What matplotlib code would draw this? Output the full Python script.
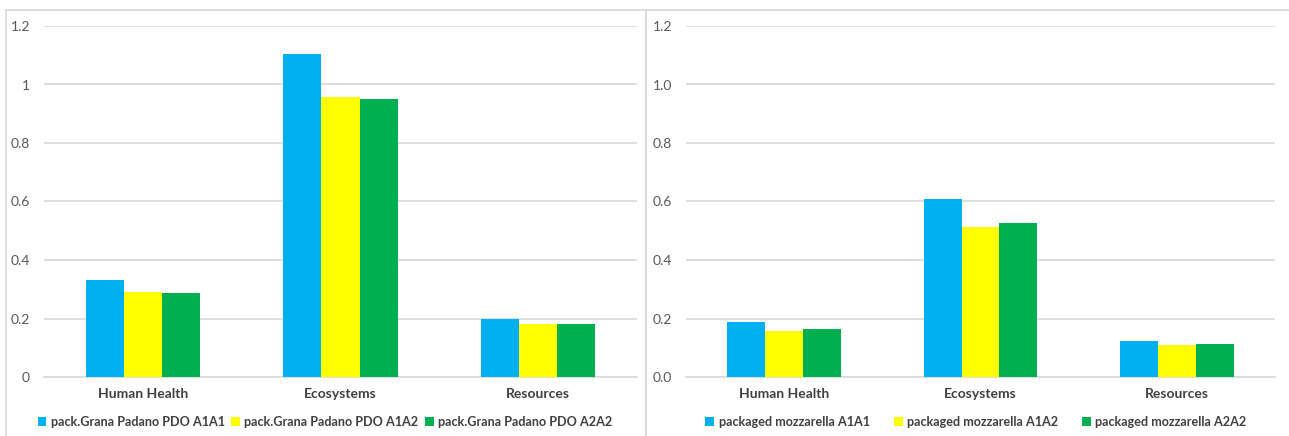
import matplotlib.pyplot as plt
import numpy as np
from matplotlib.patches import Rectangle

plt.rcParams['font.family'] = ['Lato', 'DejaVu Sans']

categories = ['Human Health', 'Ecosystems', 'Resources']

# Grana Padano
grana_labels = ['pack.Grana Padano PDO A1A1', 'pack.Grana Padano PDO A1A2', 'pack.Grana Padano PDO A2A2']
grana_a1a1 = [0.330, 1.104, 0.198]
grana_a1a2 = [0.290, 0.957, 0.181]
grana_a2a2 = [0.287, 0.950, 0.181]

# mozzarella
mozz_labels = ['packaged mozzarella A1A1', 'packaged mozzarella A1A2', 'packaged mozzarella A2A2']
mozz_a1a1 = [0.188, 0.609, 0.123]
mozz_a1a2 = [0.157, 0.513, 0.109]
mozz_a2a2 = [0.164, 0.526, 0.113]

yticks = [0, 0.2, 0.4, 0.6, 0.8, 1.0, 1.2]
left_ticklabels = ['0', '0.2', '0.4', '0.6', '0.8', '1', '1.2']
right_ticklabels = ['0.0', '0.2', '0.4', '0.6', '0.8', '1.0', '1.2']

colors = ['#00B0F0', '#FFFF00', '#00B050']
grid_c = '#d9d9d9'
text_c = '#404040'

fig = plt.figure(figsize=(12.89, 4.36), dpi=100)

# panel borders
fig.patches.append(Rectangle((6/1289, -0.01), 640/1289, 1 - 10/436 + 0.01, transform=fig.transFigure,
                             fill=False, edgecolor=grid_c, lw=1.2))
fig.patches.append(Rectangle((646/1289, -0.01), 700/1289, 1 - 10/436 + 0.01, transform=fig.transFigure,
                             fill=False, edgecolor=grid_c, lw=1.2))

bottom = 1 - 377/436
height = (377 - 26)/436

def draw(rect, series, labels, ticklabels, leg_x, colspace):
    ax = fig.add_axes(rect)
    x = np.arange(len(categories))
    w = 0.193
    for i, (vals, lab) in enumerate(zip(series, labels)):
        ax.bar(x + (i - 1) * w, vals, w, color=colors[i], label=lab, zorder=3)
    ax.set_xlim(-0.5, 2.5)
    ax.set_ylim(0, 1.2)
    ax.set_yticks(yticks)
    ax.set_yticklabels(ticklabels, fontsize=10, color='#595959')
    ax.set_xticks(x)
    ax.set_xticklabels(categories, fontsize=10, fontweight='bold', color=text_c)
    ax.tick_params(length=0, pad=10)
    ax.tick_params(axis='x', pad=8)
    ax.yaxis.grid(True, color=grid_c, lw=1.2, zorder=0)
    for s in ['top', 'right', 'left']:
        ax.spines[s].set_visible(False)
    ax.spines['bottom'].set_color(grid_c)
    ax.spines['bottom'].set_linewidth(1.2)
    leg = ax.legend(loc='center', bbox_to_anchor=(leg_x, 1 - 422/436), bbox_transform=fig.transFigure,
                    ncol=3, frameon=False, handlelength=0.7, handleheight=0.7, handletextpad=0.35,
                    columnspacing=colspace, prop={'size': 9.1, 'weight': 'bold'})
    for t in leg.get_texts():
        t.set_color(text_c)
    return ax

draw([44/1289, bottom, (637 - 44)/1289, height], [grana_a1a1, grana_a1a2, grana_a2a2],
     grana_labels, left_ticklabels, 325/1289, 0.5)
draw([686/1289, bottom, (1275 - 686)/1289, height], [mozz_a1a1, mozz_a1a2, mozz_a2a2],
     mozz_labels, right_ticklabels, 976/1289, 1.9)

fig.savefig('out.png', dpi=100)
